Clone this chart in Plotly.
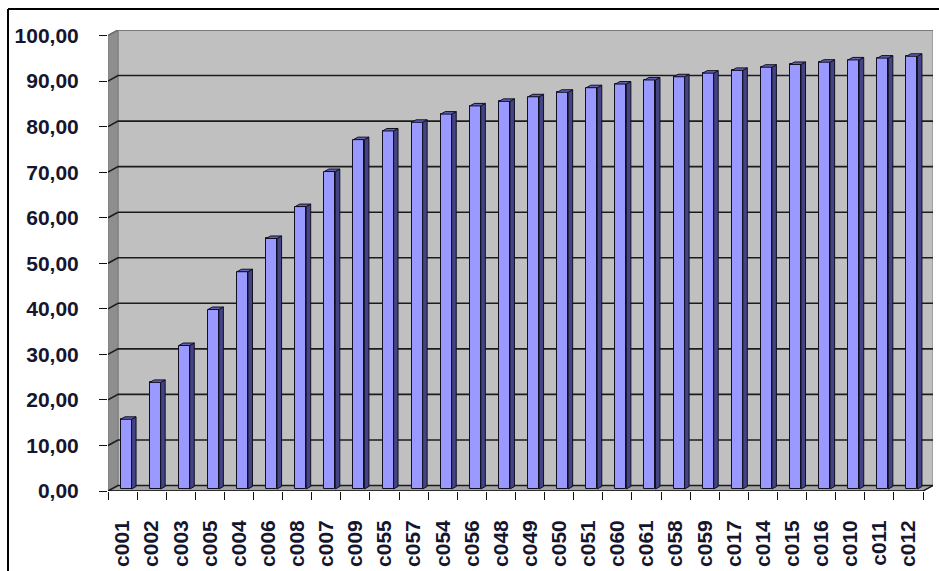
import plotly.graph_objects as go

# Cumulative share per item (ABC curve), in percent
categories = ["c001", "c002", "c003", "c005", "c004", "c006", "c008", "c007",
              "c009", "c055", "c057", "c054", "c056", "c048", "c049", "c050",
              "c051", "c060", "c061", "c058", "c059", "c017", "c014", "c015",
              "c016", "c010", "c011", "c012"]
cumulative_pct = [15.3, 23.4, 31.5, 39.4, 47.7, 55.0, 62.0, 69.7,
                  76.7, 78.6, 80.5, 82.3, 84.1, 85.1, 86.1, 87.1,
                  88.1, 88.9, 89.8, 90.5, 91.3, 91.9, 92.6, 93.2,
                  93.7, 94.2, 94.6, 95.0]
y_ticks = [0, 10, 20, 30, 40, 50, 60, 70, 80, 90, 100]
y_tick_labels = ["0,00", "10,00", "20,00", "30,00", "40,00", "50,00",
                 "60,00", "70,00", "80,00", "90,00", "100,00"]

# ---- page / pseudo-3D geometry (pixels) ----
W, H = 939, 571
LEFT_PX, RIGHT_PX, FLOOR_PX = 108, 923, 491
PX_PER_UNIT = 4.555
DEPTH_X_PX, DEPTH_Y_PX = 10, 5.5          # front plane -> back wall
n = len(categories)
cat_px = (RIGHT_PX - LEFT_PX) / n

dxu = DEPTH_X_PX / cat_px                 # depth offset in axis units
dyu = DEPTH_Y_PX / PX_PER_UNIT
y_max = y_ticks[-1]
y_top = y_max + dyu
x0, x1 = -0.5, n - 0.5

# bar plane and bar box sizes
bdx, bdy = 3.5 / cat_px, 2.0 / PX_PER_UNIT
bw = 11.0 / cat_px
sdx, sdy = 4.5 / cat_px, 2.5 / PX_PER_UNIT

FONT = dict(family="Liberation Sans, Arial, sans-serif", size=21,
            color="#15152e", weight="bold")


def poly(xs, ys):
    return "M " + " L ".join(f"{a},{b}" for a, b in zip(xs, ys)) + " Z"


shapes = []
# back wall
shapes.append(dict(type="path", xref="x", yref="y", layer="below",
                   path=poly([x0 + dxu, x1 + dxu, x1 + dxu, x0 + dxu],
                             [dyu, dyu, y_top, y_top]),
                   fillcolor="#c0c0c0", line=dict(color="#8a8a8a", width=1.2)))
# left wall
shapes.append(dict(type="path", xref="x", yref="y", layer="below",
                   path=poly([x0, x0 + dxu, x0 + dxu, x0],
                             [0, dyu, y_top, y_max]),
                   fillcolor="#8e8e8e", line=dict(color="#7a7a7a", width=1)))
# floor
shapes.append(dict(type="path", xref="x", yref="y", layer="below",
                   path=poly([x0, x1, x1 + dxu, x0 + dxu], [0, 0, dyu, dyu]),
                   fillcolor="#a4a4a4", line=dict(color="#666666", width=1)))
# gridlines across left wall and back wall
for v in y_ticks:
    col = "#6e6e6e" if v == y_max else "#1c1c1c"
    shapes.append(dict(type="path", xref="x", yref="y", layer="below",
                       path=f"M {x0},{v} L {x0 + dxu},{v + dyu} L {x1 + dxu},{v + dyu}",
                       line=dict(color=col, width=1.6)))
# front floor edge
shapes.append(dict(type="path", xref="x", yref="y", layer="below",
                   path=f"M {x0},0 L {x1},0 L {x1 + dxu},{dyu}",
                   line=dict(color="#111111", width=1.4)))
# outer frame
shapes += [
    dict(type="line", xref="paper", yref="paper",
         x0=8 / W, x1=1, y0=1 - 9 / H, y1=1 - 9 / H,
         line=dict(color="black", width=2)),
    dict(type="line", xref="paper", yref="paper",
         x0=8 / W, x1=8 / W, y0=0, y1=1 - 9 / H,
         line=dict(color="black", width=2)),
]

fig = go.Figure()

# bar front faces
xs = list(range(n))
fig.add_trace(go.Bar(
    x=xs, y=cumulative_pct, base=bdy, width=bw, offset=-bw / 2 + bdx,
    marker=dict(color="#9999ff", line=dict(color="#101020", width=1)),
    hoverinfo="skip"))

# bar right sides and lids
side_x, side_y, lid_x, lid_y = [], [], [], []
for i, v in zip(xs, cumulative_pct):
    xl = i - bw / 2 + bdx
    xr = xl + bw
    yb, yt = bdy, bdy + v
    side_x += [xr, xr + sdx, xr + sdx, xr, xr, None]
    side_y += [yb, yb + sdy, yt + sdy, yt, yb, None]
    lid_x += [xl, xr, xr + sdx, xl + sdx, xl, None]
    lid_y += [yt, yt, yt + sdy, yt + sdy, yt, None]
fig.add_trace(go.Scatter(x=side_x, y=side_y, mode="lines", fill="toself",
                         fillcolor="#434385",
                         line=dict(color="#101020", width=1),
                         hoverinfo="skip"))
fig.add_trace(go.Scatter(x=lid_x, y=lid_y, mode="lines", fill="toself",
                         fillcolor="#6262b8",
                         line=dict(color="#101020", width=1),
                         hoverinfo="skip"))

x_domain = [LEFT_PX / W, (RIGHT_PX + DEPTH_X_PX) / W]
y_domain = [(H - FLOOR_PX) / H, (H - (FLOOR_PX - PX_PER_UNIT * y_top)) / H]
x_range = [x0, x1 + dxu]

# invisible helper so the boundary tick axis renders
fig.add_trace(go.Scatter(x=[x0], y=[0], xaxis="x2", yaxis="y", mode="markers",
                         marker=dict(opacity=0), hoverinfo="skip"))

fig.update_layout(
    template="none",
    width=W, height=H, autosize=False,
    margin=dict(l=0, r=0, t=0, b=0, pad=0),
    paper_bgcolor="white", plot_bgcolor="rgba(0,0,0,0)",
    showlegend=False, bargap=0,
    xaxis=dict(domain=x_domain, range=x_range, type="linear",
               tickmode="array", tickvals=xs, ticktext=categories,
               tickangle=-90, ticks="", showgrid=False, zeroline=False,
               showline=False, tickfont=FONT, ticklabelstandoff=24,
               automargin=False, fixedrange=True),
    xaxis2=dict(overlaying="x", anchor="y", side="bottom", range=x_range,
                type="linear", tickmode="array",
                tickvals=[i - 0.5 for i in range(n + 1)],
                ticks="outside", ticklen=8, tickwidth=1.2,
                tickcolor="#111111", showticklabels=False,
                showgrid=False, zeroline=False, showline=False,
                automargin=False),
    yaxis=dict(domain=y_domain, range=[0, y_top], tickmode="array",
               tickvals=y_ticks, ticktext=y_tick_labels,
               ticks="outside", ticklen=8, tickwidth=1.2,
               tickcolor="#111111", showgrid=False, zeroline=False,
               showline=False, tickfont=FONT, ticklabelstandoff=16,
               automargin=False, fixedrange=True),
    shapes=shapes,
)

fig.write_html("out.html")
